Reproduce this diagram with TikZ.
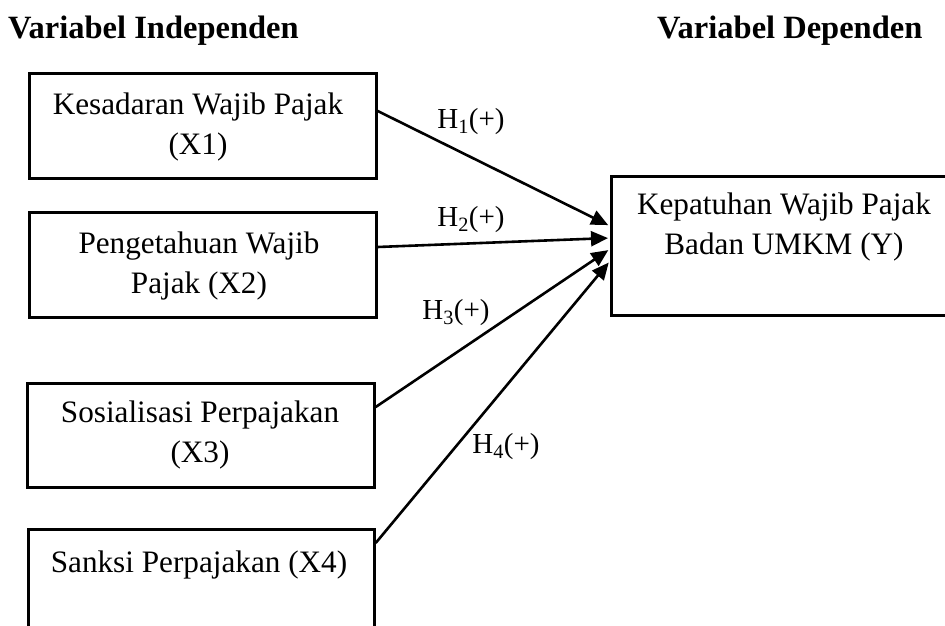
\documentclass[tikz,border=0pt]{standalone}
\usepackage{fontspec}
\setmainfont{Liberation Serif}
\usetikzlibrary{arrows.meta}
\begin{document}
\begin{tikzpicture}[x=1pt,y=-1pt,
  box/.style={draw=black, line width=2.7pt, rectangle, anchor=north west, inner sep=0pt},
  txt/.style={align=center, inner sep=0pt, font=\fontsize{31.2}{40}\selectfont},
  head/.style={inner sep=0pt, font=\fontsize{32.5}{36}\selectfont\bfseries},
  hlab/.style={inner sep=0pt, font=\fontsize{29}{34}\selectfont},
  conn/.style={line width=2.6pt, -{Triangle[length=17pt,width=15pt]}}]
\useasboundingbox (0,0) rectangle (945,626);
\clip (0,0) rectangle (945,626);
% headings
\node[head, anchor=west] (hi) at (8,31) {Variabel Independen};
\node[head, anchor=west] (hd) at (657,31) {Variabel Dependen};
% boxes
\node[box, minimum width=347pt, minimum height=105pt] (x1) at (28,72) {};
\node[box, minimum width=347pt, minimum height=105pt] (x2) at (28,211) {};
\node[box, minimum width=347pt, minimum height=104pt] (x3) at (26,382) {};
\node[box, minimum width=346pt, minimum height=120pt] (x4) at (27,528) {};
\node[box, minimum width=350pt, minimum height=139pt] (y) at (610,175) {};
% texts
\node[txt] (t1) at (198,127) {Kesadaran Wajib Pajak\\(X1)};
\node[txt] (t2) at (199,266) {Pengetahuan Wajib\\Pajak (X2)};
\node[txt] (t3) at (200,435) {Sosialisasi Perpajakan\\(X3)};
\node[txt] (t4) at (199,565) {Sanksi Perpajakan (X4)};
\node[txt] (ty) at (784,227) {Kepatuhan Wajib Pajak\\Badan UMKM (Y)};
% connector end points
\coordinate (s1) at (x1.east |- 0,111);
\coordinate (s2) at (x2.east |- 0,247);
\coordinate (s3) at (x3.east |- 0,407);
\coordinate (s4) at (x4.east |- 0,543);
\coordinate (e1) at (y.west |- 0,226);
\coordinate (e2) at (y.west |- 0,238);
\coordinate (e3) at (y.west |- 0,249);
\coordinate (e4) at (y.west |- 0,261);
\draw[conn, shorten >=2pt] (s1) -- (e1);
\draw[conn, shorten >=2pt] (s2) -- (e2);
\draw[conn, shorten >=2pt] (s3) -- (e3);
\draw[conn, shorten >=2pt] (s4) -- (e4);
% labels
\node[hlab] (h1) at (471,122) {H\textsubscript{1}(+)};
\node[hlab] (h2) at (471,220) {H\textsubscript{2}(+)};
\node[hlab] (h3) at (456,313) {H\textsubscript{3}(+)};
\node[hlab] (h4) at (506,447) {H\textsubscript{4}(+)};
\end{tikzpicture}
\end{document}
